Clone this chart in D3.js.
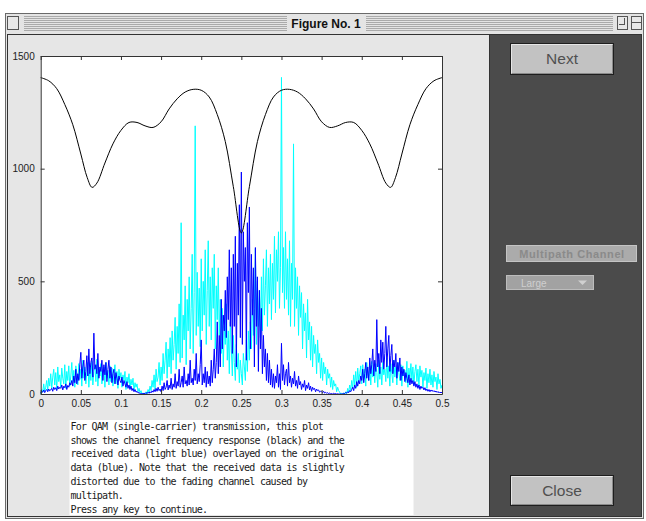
<!DOCTYPE html>
<html>
<head>
<meta charset="utf-8">
<script src="https://cdn.jsdelivr.net/npm/d3@7"></script>
<style>
  body { margin: 0; background: #fff; }
  svg { display: block; }
</style>
</head>
<body>
<main></main>
<script>
(function(){

  const w = 646,
    h = 521,
    plotL = 40.7,
    plotR = 442,
    plotT = 56,
    plotB = 394;

  // channel frequency response (black)
  const chanFreq = [0, 0.01, 0.02, 0.03, 0.04, 0.05, 0.058, 0.064, 0.07, 0.08, 0.09,
    0.10, 0.11, 0.12, 0.13, 0.14, 0.15, 0.16, 0.17, 0.18, 0.19, 0.20, 0.21, 0.22, 0.23, 0.24, 0.25,
    0.26, 0.27, 0.28, 0.29, 0.30, 0.31, 0.32, 0.33, 0.34, 0.35, 0.36, 0.37, 0.38, 0.39, 0.40,
    0.41, 0.42, 0.43, 0.436, 0.442, 0.45, 0.46, 0.47, 0.48, 0.49, 0.50];
  const chanMag = [1404, 1390, 1355, 1285, 1195, 1065, 960, 917, 936, 1025, 1110,
    1170, 1205, 1205, 1190, 1183, 1208, 1265, 1310, 1340, 1352, 1348, 1318, 1240, 1120, 920, 715,
    920, 1120, 1240, 1318, 1348, 1352, 1340, 1310, 1265, 1208, 1183, 1190, 1205, 1205, 1170,
    1110, 1025, 936, 917, 960, 1065, 1195, 1285, 1355, 1390, 1404];

  // received data (light blue), one value every 0.00125
  const received = [
    0, 20, 8, 45, 12, 30, 60, 15, 70, 35,
    90, 25, 75, 110, 40, 95, 20, 120, 55, 85,
    30, 115, 70, 45, 130, 25, 100, 60, 125, 35,
    80, 140, 50, 105, 30, 125, 90, 40, 135, 65,
    110, 35, 150, 70, 120, 45, 95, 140, 30, 115,
    60, 145, 40, 100, 130, 55, 155, 35, 110, 80,
    135, 45, 95, 120, 30, 140, 70, 105, 40, 125,
    55, 115, 35, 90, 130, 45, 100, 25, 110, 70,
    95, 30, 85, 60, 100, 20, 75, 50, 90, 25,
    65, 40, 70, 15, 50, 30, 45, 10, 25, 5,
    15, 0, 5, 0, 2, 10, 0, 20, 8, 35,
    15, 60, 30, 85, 20, 110, 55, 75, 140, 40,
    120, 60, 180, 90, 150, 230, 70, 200, 120, 250,
    90, 280, 150, 220, 340, 110, 300, 180, 400, 140,
    760, 160, 350, 240, 480, 130, 420, 280, 520, 200,
    380, 620, 180, 450, 1190, 260, 540, 300, 470, 210,
    600, 280, 500, 350, 640, 220, 460, 680, 300, 520,
    240, 560, 380, 620, 200, 480, 330, 560, 260, 420,
    180, 380, 120, 300, 220, 400, 150, 280, 90, 320,
    200, 80, 260, 140, 60, 220, 110, 180, 50, 150,
    90, 40, 180, 120, 60, 240, 100, 280, 150, 320,
    200, 420, 260, 380, 645, 220, 500, 300, 460, 250,
    520, 280, 600, 350, 480, 640, 300, 560, 400, 620,
    330, 580, 420, 700, 360, 640, 500, 720, 380, 560,
    1405, 450, 650, 380, 720, 420, 600, 350, 680, 300,
    580, 420, 1110, 300, 560, 380, 520, 260, 480, 340,
    450, 200, 400, 280, 360, 160, 420, 240, 320, 150,
    300, 120, 260, 180, 220, 90, 240, 140, 180, 70,
    160, 60, 140, 90, 120, 40, 110, 70, 90, 30,
    75, 20, 60, 35, 45, 10, 30, 15, 8, 0,
    3, 0, 5, 0, 10, 2, 25, 8, 40, 15,
    60, 25, 85, 40, 100, 30, 115, 55, 90, 125,
    45, 130, 70, 110, 35, 140, 90, 60, 125, 40,
    145, 75, 115, 50, 135, 95, 30, 150, 65, 120,
    40, 140, 85, 110, 55, 160, 70, 125, 35, 135,
    90, 50, 150, 75, 120, 40, 140, 95, 60, 130,
    35, 125, 80, 105, 50, 145, 30, 115, 70, 135,
    60, 120, 40, 100, 130, 55, 110, 35, 125, 75,
    105, 30, 95, 60, 115, 25, 90, 50, 110, 40,
    85, 30, 100, 55, 75, 20, 90, 45, 65, 25,
    40];

  // original data (blue)
  const original = [
    5, 12, 8, 18, 6, 15, 20, 10, 22, 14,
    18, 25, 12, 30, 20, 28, 15, 35, 22, 30,
    25, 40, 18, 35, 28, 45, 20, 38, 30, 50,
    40, 60, 35, 80, 50, 110, 45, 90, 60, 130,
    185, 70, 120, 150, 60, 100, 170, 80, 200, 90,
    140, 160, 75, 270, 110, 130, 90, 180, 70, 120,
    100, 150, 60, 130, 85, 140, 55, 110, 150, 70,
    120, 50, 90, 110, 45, 95, 70, 40, 80, 60,
    50, 75, 35, 60, 45, 30, 55, 25, 40, 20,
    35, 15, 25, 10, 20, 8, 12, 5, 6, 2,
    0, 2, 0, 4, 1, 6, 2, 8, 3, 10,
    5, 14, 8, 20, 10, 25, 12, 30, 15, 22,
    10, 35, 15, 50, 20, 30, 60, 18, 40, 25,
    70, 20, 45, 30, 90, 25, 55, 35, 110, 30,
    50, 80, 30, 120, 45, 60, 35, 90, 40, 150,
    50, 70, 40, 110, 60, 180, 45, 90, 55, 130,
    240, 40, 90, 50, 120, 30, 100, 45, 80, 35,
    150, 50, 110, 200, 70, 140, 320, 90, 260, 120,
    420, 200, 350, 280, 460, 250, 520, 330, 640, 300,
    560, 180, 620, 300, 700, 120, 580, 350, 840, 250,
    985, 220, 720, 500, 650, 150, 760, 450, 830, 200,
    620, 350, 560, 120, 650, 300, 520, 100, 460, 200,
    380, 90, 260, 120, 200, 60, 180, 50, 150, 40,
    110, 30, 90, 25, 80, 50, 130, 30, 90, 20,
    225, 60, 130, 40, 90, 110, 35, 140, 50, 80,
    30, 70, 45, 100, 35, 60, 25, 80, 40, 55,
    20, 45, 30, 60, 15, 40, 25, 50, 18, 35,
    12, 30, 20, 25, 10, 22, 15, 18, 8, 12,
    10, 6, 12, 4, 8, 3, 6, 2, 4, 1,
    2, 0, 3, 1, 2, 0, 1, 0, 0, 0,
    0, 1, 3, 2, 6, 4, 10, 6, 15, 10,
    20, 30, 15, 40, 25, 55, 35, 60, 45, 80,
    60, 110, 50, 90, 140, 70, 120, 60, 160, 90,
    130, 200, 80, 150, 100, 330, 120, 180, 90, 240,
    140, 230, 110, 180, 300, 120, 200, 260, 100, 170,
    220, 90, 150, 120, 180, 70, 140, 100, 160, 60,
    120, 80, 110, 55, 95, 70, 50, 85, 40, 70,
    45, 60, 35, 55, 30, 45, 25, 40, 20, 35,
    25, 30, 18, 28, 15, 22, 12, 20, 10, 18,
    12, 16, 10, 14, 8, 12, 6, 10, 5, 8,
    5];

  const sampleFreq = d3.range(original.length).map(i => i * 0.00125);

  const xTicks = [0, 0.05, 0.1, 0.15, 0.2, 0.25, 0.3, 0.35, 0.4, 0.45, 0.5],
    xTickLabels = ["0", "0.05", "0.1", "0.15", "0.2", "0.25", "0.3", "0.35", "0.4", "0.45", "0.5"],
    yTicks = [0, 500, 1000, 1500],
    yTickLabels = ["0", "500", "1000", "1500"];

  const infoLines = [
    "For QAM (single-carrier) transmission, this plot",
    "shows the channel frequency response (black) and the",
    "received data (light blue) overlayed on the original",
    "data (blue). Note that the received data is slightly",
    "distorted due to the fading channel caused by",
    "multipath.",
    "Press any key to continue."
  ];

  const svg = d3.select("main")
    .append("svg")
    .attr("width", w)
    .attr("height", h);

  // WINDOW FRAME + TITLE BAR
  svg.append("rect").attr("x", 5.5).attr("y", 13.5).attr("width", 638).attr("height", 505)
    .attr("fill", "#e4e4e4").attr("stroke", "#6a6a6a");

  const title = svg.append("g");
  d3.range(16, 32, 2).forEach(yy => {
    title.append("line").attr("x1", 24).attr("x2", 287).attr("y1", yy + 0.5).attr("y2", yy + 0.5).attr("stroke", "#aaa");
    title.append("line").attr("x1", 366).attr("x2", 613).attr("y1", yy + 0.5).attr("y2", yy + 0.5).attr("stroke", "#aaa");
  });
  title.append("rect").attr("x", 7.5).attr("y", 16.5).attr("width", 11).attr("height", 13)
    .attr("fill", "#e8e8e8").attr("stroke", "#555");
  title.append("rect").attr("x", 617.5).attr("y", 16.5).attr("width", 10).attr("height", 13)
    .attr("fill", "#e8e8e8").attr("stroke", "#555");
  title.append("rect").attr("x", 631.5).attr("y", 16.5).attr("width", 10).attr("height", 13)
    .attr("fill", "#e8e8e8").attr("stroke", "#555");
  title.append("line").attr("x1", 619).attr("x2", 624).attr("y1", 24.5).attr("y2", 24.5).attr("stroke", "#555");
  title.append("line").attr("x1", 624.5).attr("x2", 624.5).attr("y1", 18).attr("y2", 25).attr("stroke", "#555");
  title.append("line").attr("x1", 632).attr("x2", 641).attr("y1", 22.5).attr("y2", 22.5).attr("stroke", "#555");
  title.append("text").attr("x", 326).attr("y", 27.5).attr("text-anchor", "middle")
    .attr("font-family", "Liberation Sans, Arial, sans-serif").attr("font-weight", "bold")
    .attr("font-size", 12).attr("fill", "#111").text("Figure No. 1");

  // FIGURE AREA + RIGHT PANEL
  svg.append("rect").attr("x", 7.5).attr("y", 34.5).attr("width", 634).attr("height", 482)
    .attr("fill", "#e6e6e6").attr("stroke", "#333");
  svg.append("rect").attr("x", 489).attr("y", 35).attr("width", 152).attr("height", 481)
    .attr("fill", "#4b4b4b");
  svg.append("line").attr("x1", 489.5).attr("x2", 489.5).attr("y1", 35).attr("y2", 516)
    .attr("stroke", "#333");

  // PLOT
  const x = d3.scaleLinear().domain([0, 0.5]).range([plotL, plotR]);
  const y = d3.scaleLinear().domain([0, 1500]).range([plotB, plotT]);

  svg.append("rect").attr("x", plotL).attr("y", plotT).attr("width", plotR - plotL).attr("height", plotB - plotT)
    .attr("fill", "#fff");

  const spectrum = d3.line()
    .x((d, i) => x(sampleFreq[i]))
    .y(d => y(d));

  svg.append("path").datum(received)
    .attr("d", spectrum).attr("fill", "none").attr("stroke", "#00ffff").attr("stroke-width", 1);
  svg.append("path").datum(original)
    .attr("d", spectrum).attr("fill", "none").attr("stroke", "#0000ff").attr("stroke-width", 1);

  const chanLine = d3.line()
    .x((d, i) => x(chanFreq[i]))
    .y(d => y(d))
    .curve(d3.curveCatmullRom);

  svg.append("path").datum(chanMag)
    .attr("d", chanLine).attr("fill", "none").attr("stroke", "#000").attr("stroke-width", 1);

  // AXES (ticks inward, box on)
  const axisFont = g => g.attr("font-family", "Liberation Sans, Arial, sans-serif").attr("font-size", 10)
    .call(s => s.selectAll("text").attr("fill", "#222"))
    .call(s => s.selectAll("line,path").attr("stroke", "#333"));

  svg.append("g").attr("transform", "translate(0," + plotB + ")")
    .call(d3.axisBottom(x).tickValues(xTicks).tickFormat((d, i) => xTickLabels[i])
      .tickSizeInner(-4).tickSizeOuter(0).tickPadding(6))
    .call(axisFont);
  svg.append("g").attr("transform", "translate(0," + plotT + ")")
    .call(d3.axisTop(x).tickValues(xTicks).tickFormat("").tickSizeInner(-4).tickSizeOuter(0))
    .call(axisFont);
  svg.append("g").attr("transform", "translate(" + plotL + ",0)")
    .call(d3.axisLeft(y).tickValues(yTicks).tickFormat((d, i) => yTickLabels[i])
      .tickSizeInner(-4).tickSizeOuter(0).tickPadding(6))
    .call(axisFont);
  svg.append("g").attr("transform", "translate(" + plotR + ",0)")
    .call(d3.axisRight(y).tickValues(yTicks).tickFormat("").tickSizeInner(-4).tickSizeOuter(0))
    .call(axisFont);

  // INFO TEXT BOX
  svg.append("rect").attr("x", 69.5).attr("y", 420).attr("width", 344).attr("height", 95).attr("fill", "#fff");
  svg.append("g").selectAll("text").data(infoLines).join("text")
    .attr("x", 70.5).attr("y", (d, i) => 429.8 + i * 13.8)
    .attr("font-family", "DejaVu Sans Mono, monospace").attr("font-size", 10)
    .attr("letter-spacing", -0.76).attr("fill", "#1a1a1a")
    .style("white-space", "pre")
    .text(d => d);

  // UI CONTROLS
  const button = (bx, by, bw, bh, label) => {
    const g = svg.append("g");
    g.append("rect").attr("x", bx + 0.5).attr("y", by + 0.5).attr("width", bw).attr("height", bh)
      .attr("fill", "#c2c2c2").attr("stroke", "#1e1e1e");
    g.append("path").attr("d", `M${bx + 1.5},${by + bh - 1}V${by + 1.5}H${bx + bw - 1}`)
      .attr("fill", "none").attr("stroke", "#e6e6e6");
    g.append("path").attr("d", `M${bx + 2},${by + bh - 0.5}H${bx + bw - 0.5}V${by + 2}`)
      .attr("fill", "none").attr("stroke", "#8a8a8a");
    g.append("text").attr("x", bx + bw / 2 + 0.5).attr("y", by + bh / 2 + 5.5).attr("text-anchor", "middle")
      .attr("font-family", "Liberation Sans, Arial, sans-serif").attr("font-size", 15.5)
      .attr("fill", "#505050").text(label);
  };
  button(510, 43, 103, 31, "Next");
  button(510, 475, 103, 30, "Close");

  svg.append("rect").attr("x", 506.5).attr("y", 245.5).attr("width", 130).attr("height", 16)
    .attr("fill", "#ababab").attr("stroke", "#c4c4c4");
  svg.append("text").attr("x", 572).attr("y", 257.5).attr("text-anchor", "middle")
    .attr("font-family", "Liberation Sans, Arial, sans-serif").attr("font-weight", "bold")
    .attr("font-size", 11).attr("letter-spacing", 0.6).attr("fill", "#8a8a8a").text("Multipath Channel");

  svg.append("rect").attr("x", 506.5).attr("y", 275.5).attr("width", 87).attr("height", 14)
    .attr("fill", "#a2a2a2").attr("stroke", "#bcbcbc");
  svg.append("text").attr("x", 521).attr("y", 286.5)
    .attr("font-family", "Liberation Sans, Arial, sans-serif").attr("font-size", 10)
    .attr("fill", "#cfcfcf").text("Large");
  svg.append("path").attr("d", "M578,280.5H587L582.5,285Z").attr("fill", "#d0d0d0");

})()
</script>
</body>
</html>
